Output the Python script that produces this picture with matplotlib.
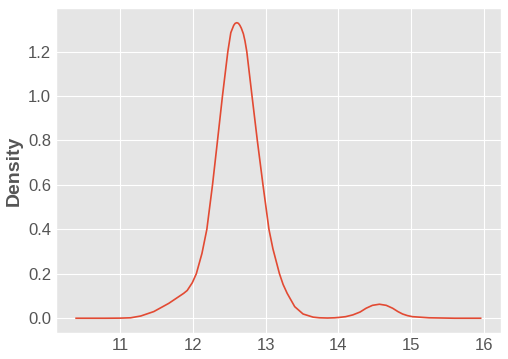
import matplotlib
matplotlib.use("Agg")
import matplotlib.pyplot as plt

# Values
x_vals = [10.39, 10.80, 11.00, 11.14, 11.28, 11.46, 11.666, 11.871, 11.92, 11.99,
          12.045, 12.123, 12.19, 12.268, 12.337, 12.405, 12.479, 12.52, 12.56, 12.58,
          12.603, 12.625, 12.645, 12.665, 12.693, 12.715, 12.74, 12.812, 12.885,
          12.963, 13.045, 13.10, 13.19, 13.24, 13.296, 13.40, 13.515, 13.652, 13.74,
          13.85, 13.95, 14.018, 14.10, 14.20, 14.30, 14.383, 14.47, 14.566, 14.66,
          14.748, 14.82, 14.885, 14.95, 15.02, 15.25, 15.60, 15.96]
density = [0.0, 0.0, 0.0005, 0.002, 0.010, 0.030, 0.067, 0.112, 0.125, 0.160,
           0.200, 0.292, 0.400, 0.600, 0.800, 1.000, 1.200, 1.285, 1.318, 1.327,
           1.330, 1.327, 1.318, 1.305, 1.280, 1.248, 1.200, 1.000, 0.800,
           0.600, 0.400, 0.312, 0.200, 0.152, 0.112, 0.052, 0.019, 0.005, 0.002,
           0.001, 0.002, 0.004, 0.007, 0.015, 0.028, 0.045, 0.058, 0.063, 0.058,
           0.045, 0.030, 0.019, 0.012, 0.007, 0.002, 0.0, 0.0]

plt.style.use("ggplot")
plt.rcParams["font.family"] = ["Liberation Sans", "DejaVu Sans"]

fig = plt.figure(figsize=(5.08, 3.59), dpi=100)
ax = fig.add_axes([0.110, 0.0724, 0.876, 0.9056])
ax.plot(x_vals, density, color="#E24A33", linewidth=1.2)
ax.set_ylabel("Density", fontsize=14, fontweight="bold", color="#555555")
ax.tick_params(axis="both", labelsize=12, length=0, colors="#555555")
ax.set_xticks([11, 12, 13, 14, 15, 16])
ax.set_yticks([0.0, 0.2, 0.4, 0.6, 0.8, 1.0, 1.2])
fig.savefig("out.png", dpi=100)
